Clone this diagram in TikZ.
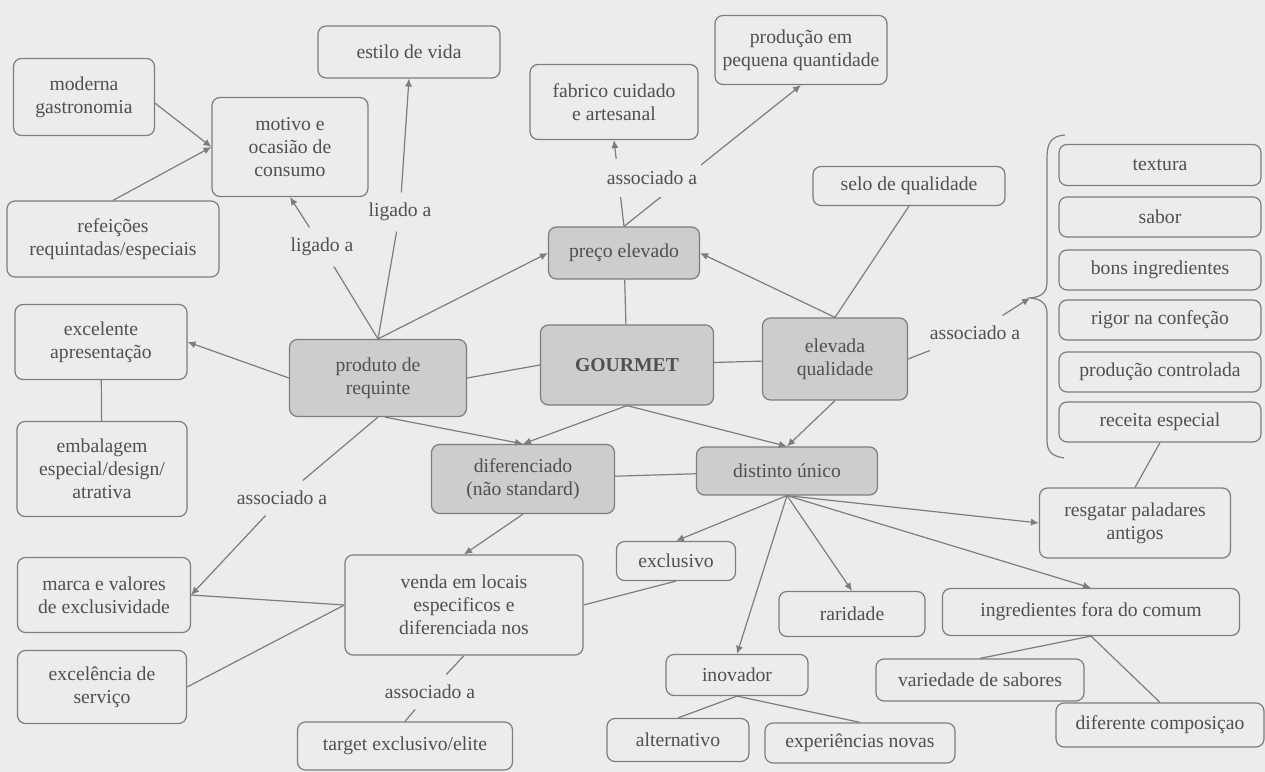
\documentclass[tikz,border=0pt]{standalone}
\usepackage{fontspec}
\setmainfont{Liberation Serif}
\usetikzlibrary{arrows.meta}

\definecolor{bgc}{RGB}{236,236,236}
\definecolor{keyc}{RGB}{205,205,205}
\definecolor{linec}{RGB}{125,125,125}
\definecolor{txtc}{RGB}{80,80,80}
\newcommand{\mapfont}{\fontsize{14}{16.5}\selectfont}

\begin{document}
\begin{tikzpicture}[x=0.25mm,y=-0.25mm,>={Latex[length=2mm,width=1.8mm]},line width=0.3mm,
  box/.style={draw=linec,rounded corners=2mm,align=center,inner sep=0pt,text=txtc,font=\mapfont},
  key node/.style={box,fill=keyc},
  link/.style={text=txtc,font=\mapfont,inner xsep=1mm,inner ysep=2.5mm},
  sz/.style 2 args={minimum width={#1*0.25mm},minimum height={#2*0.25mm}}]

  \fill[bgc] (0,0) rectangle (1265,772);

  % centre
  \node[key node,sz={173}{80}] (gourmet) at (627,365) {\textbf{GOURMET}};
  \node[key node,sz={151}{52}] (preco) at (624,253) {preço elevado};
  \node[key node,sz={145}{82}] (elevada) at (835,359) {elevada\\qualidade};
  \node[key node,sz={177}{77}] (produto) at (378,378) {produto de\\requinte};
  \node[key node,sz={183}{69}] (diferenciado) at (523,479) {diferenciado\\(não standard)};
  \node[key node,sz={181}{48}] (distinto) at (787,471) {distinto único};

  % top
  \node[box,sz={182}{52}] (estilo) at (409,52) {estilo de vida};
  \node[box,sz={141}{77}] (moderna) at (84,97) {moderna\\gastronomia};
  \node[box,sz={156}{99}] (motivo) at (290,147) {motivo e\\ocasião de\\consumo};
  \node[box,sz={212}{76}] (refeicoes) at (113,239) {refeições\\requintadas/especiais};
  \node[box,sz={168}{75}] (fabrico) at (614,102) {fabrico cuidado\\e artesanal};
  \node[box,sz={172}{69}] (producao) at (801,50) {produção em\\pequena quantidade};
  \node[box,sz={192}{39}] (selo) at (909,186) {selo de qualidade};

  % left
  \node[box,sz={172}{75}] (excelente) at (101,342) {excelente\\apresentação};
  \node[box,sz={170}{95}] (embalagem) at (102,469) {embalagem\\especial/design/\\atrativa};
  \node[box,sz={173}{75}] (marca) at (104,595) {marca e valores\\de exclusividade};
  \node[box,sz={169}{73}] (servico) at (102,687) {excelência de\\serviço};
  \node[box,sz={238}{100}] (venda) at (464,605) {venda em locais\\especificos e\\diferenciada nos};
  \node[box,sz={215}{48}] (target) at (405,746) {target exclusivo/elite};

  % right
  \node[box,sz={202}{41}] (textura) at (1160,165) {textura};
  \node[box,sz={202}{40}] (sabor) at (1160,217) {sabor};
  \node[box,sz={202}{40}] (bons) at (1160,270) {bons ingredientes};
  \node[box,sz={202}{40}] (rigor) at (1160,320) {rigor na confeção};
  \node[box,sz={202}{40}] (controlada) at (1160,372) {produção controlada};
  \node[box,sz={202}{40}] (receita) at (1160,422) {receita especial};
  \node[box,sz={191}{70}] (resgatar) at (1135,523) {resgatar paladares\\antigos};

  % bottom
  \node[box,sz={119}{39}] (exclusivo) at (676,561) {exclusivo};
  \node[box,sz={146}{45}] (raridade) at (852,614) {raridade};
  \node[box,sz={297}{47}] (ingredientes) at (1091,612) {ingredientes fora do comum};
  \node[box,sz={142}{41}] (inovador) at (737,675) {inovador};
  \node[box,sz={208}{42}] (variedade) at (980,680) {variedade de sabores};
  \node[box,sz={208}{44}] (diferente) at (1160,725) {diferente composiçao};
  \node[box,sz={142}{43}] (alternativo) at (678,740) {alternativo};
  \node[box,sz={190}{40}] (experiencias) at (860,743) {experiências novas};

  % linking words
  \node[link] (ligmotivo) at (322,247) {ligado a};
  \node[link] (ligestilo) at (400,212) {ligado a};
  \node[link] (assocqual) at (975,333) {associado a};
  \node[link] (assocprod) at (282,498) {associado a};
  \node[link] (assocvenda) at (430,692) {associado a};
  \coordinate (bracetip) at (1030,298);

  \draw[linec] (1065,135) .. controls (1051,136) and (1047,143) .. (1047,158) -- (1047,282)
    .. controls (1047,293) and (1041,297) .. (bracetip)
    .. controls (1041,299) and (1047,303) .. (1047,314) -- (1047,440)
    .. controls (1047,452) and (1052,456) .. (1064,458);

  \path[every edge/.style={draw=linec}]
    (moderna.-5) edge[->] (motivo.west)
    (refeicoes.north) edge[->] (motivo.west)
    (produto.north) edge (ligmotivo)
    (ligmotivo) edge[->] (motivo.south)
    (produto.north) edge (ligestilo)
    (ligestilo) edge[->] (estilo.south)
    (produto.north) edge[->] (preco.west)
    (produto.west) edge[->] (excelente.east)
    (excelente) edge (embalagem)
    (produto.south) edge (assocprod)
    (assocprod) edge[->] (marca.east)
    (produto.-80) edge[->] (diferenciado.north)
    (gourmet.west) edge (produto.east)
    (gourmet) edge (elevada)
    (gourmet) edge (preco)
    (gourmet.south) edge[->] (diferenciado.north)
    (gourmet.south) edge[->] (distinto.north)
    (preco.north) edge[->] (fabrico.south)
    (preco.north) edge[->] (producao.south)
    (selo.south) edge (elevada.north)
    (elevada.north) edge[->] (preco.east)
    (elevada.east) edge (assocqual)
    (assocqual) edge[->] (bracetip)
    (elevada.south) edge[->] (distinto.north)
    (diferenciado) edge (distinto)
    (diferenciado.south) edge[->] (venda.north)
    (venda.west) edge (marca.east)
    (venda.west) edge (servico.east)
    (venda.south) edge (assocvenda)
    (assocvenda) edge (target.north)
    (exclusivo.south) edge (venda.east)
    (distinto.south) edge[->] (exclusivo.north)
    (distinto.south) edge[->] (inovador.north)
    (distinto.south) edge[->] (raridade.north)
    (distinto.south) edge[->] (ingredientes.north)
    (distinto.south) edge[->] (resgatar.west)
    (receita.south) edge (resgatar.north)
    (ingredientes.south) edge (variedade.north)
    (ingredientes.south) edge (diferente.north)
    (inovador.south) edge (alternativo.north)
    (inovador.south) edge (experiencias.north);

  % label over the two lines from preco
  \node[link,fill=bgc,inner ysep=3mm] (assocpreco) at (652,178) {associado a};
\end{tikzpicture}
\end{document}
